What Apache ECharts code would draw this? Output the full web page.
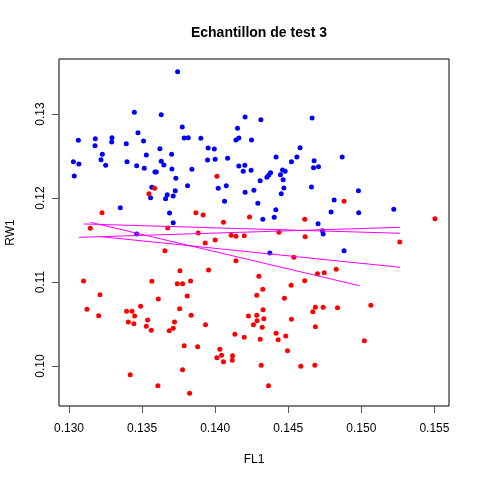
<!DOCTYPE html>
<html>
<head>
<meta charset="utf-8">
<script src="https://cdn.jsdelivr.net/npm/echarts@6/dist/echarts.min.js"></script>
<style>
html, body { margin: 0; padding: 0; background: #fff; }
#nuage { width: 480px; height: 480px; }
</style>
</head>
<body>
<div id="nuage"></div>
<script>
// groupe bleu
var bleuFL1 = [0.13743, 0.13447, 0.13631, 0.13472, 0.13775, 0.13064, 0.13180, 0.13294, 0.13292, 0.13178,
    0.13392, 0.13510, 0.13788, 0.13816, 0.13902, 0.14153, 0.14205, 0.14142, 0.14162, 0.14249,
    0.13228, 0.13219, 0.13030, 0.13068, 0.13036, 0.13251, 0.13397, 0.13463, 0.13529, 0.13515,
    0.13622, 0.13631, 0.13649, 0.13702, 0.13704, 0.13588, 0.13597, 0.13731, 0.13841, 0.13952,
    0.13994, 0.13948, 0.14000, 0.14085, 0.14162, 0.14203, 0.14192, 0.14246, 0.13567, 0.13811,
    0.14021, 0.14076, 0.13727, 0.13672, 0.13713, 0.13558, 0.13661, 0.14205, 0.14265, 0.14064,
    0.14292, 0.13351, 0.13688, 0.13713, 0.13463, 0.14313, 0.14663, 0.14581, 0.14417, 0.14559,
    0.14522, 0.14677, 0.14869, 0.14461, 0.14479, 0.14447, 0.14379, 0.14367, 0.14354, 0.14673,
    0.14707, 0.14308, 0.14465, 0.14470, 0.14452, 0.14659, 0.14980, 0.14415, 0.14326, 0.14404,
    0.14814, 0.14793, 0.14982, 0.15222, 0.14704, 0.14734, 0.14739, 0.14374, 0.14882];
var bleuRW1 = [0.13504, 0.13020, 0.12992, 0.12778, 0.12845, 0.12687, 0.12706, 0.12718, 0.12667, 0.12623,
    0.12647, 0.12679, 0.12714, 0.12718, 0.12710, 0.12829, 0.12964, 0.12690, 0.12714, 0.12690,
    0.12520, 0.12456, 0.12433, 0.12405, 0.12262, 0.12389, 0.12433, 0.12385, 0.12512, 0.12353,
    0.12587, 0.12437, 0.12393, 0.12520, 0.12345, 0.12310, 0.12310, 0.12234, 0.12341, 0.12595,
    0.12583, 0.12452, 0.12460, 0.12472, 0.12381, 0.12389, 0.12318, 0.12329, 0.12127, 0.12147,
    0.12115, 0.12147, 0.12087, 0.12040, 0.12024, 0.12004, 0.11992, 0.12067, 0.12091, 0.11960,
    0.11937, 0.11885, 0.11821, 0.11706, 0.11571, 0.12933, 0.12952, 0.12599, 0.12488, 0.12488,
    0.12433, 0.12444, 0.12488, 0.12333, 0.12318, 0.12278, 0.12302, 0.12274, 0.12246, 0.12361,
    0.12373, 0.12206, 0.12218, 0.12119, 0.12052, 0.12131, 0.12087, 0.11861, 0.11746, 0.11770,
    0.11976, 0.11833, 0.11825, 0.11865, 0.11694, 0.11611, 0.11571, 0.11345, 0.11373];

// groupe rouge
var rougeFL1 = [0.14012, 0.13586, 0.13547, 0.13226, 0.13868, 0.13918, 0.14235, 0.14057, 0.13146, 0.13675,
    0.13884, 0.14110, 0.14142, 0.14199, 0.14882, 0.14613, 0.15504, 0.14436, 0.14616, 0.14000,
    0.13932, 0.13656, 0.14142, 0.13759, 0.13955, 0.13100, 0.13567, 0.13741, 0.13777, 0.13832,
    0.13212, 0.13809, 0.13611, 0.13123, 0.13203, 0.13394, 0.13431, 0.13490, 0.13449, 0.13757,
    0.13836, 0.13406, 0.13444, 0.13538, 0.13529, 0.13563, 0.13722, 0.13713, 0.13686, 0.13934,
    0.14228, 0.14262, 0.14135, 0.14199, 0.13788, 0.13880, 0.14032, 0.14012, 0.14044, 0.14057,
    0.14119, 0.14117, 0.13777, 0.13419, 0.13608, 0.13825, 0.15263, 0.14538, 0.14299, 0.14700,
    0.14746, 0.14828, 0.14613, 0.14520, 0.14326, 0.14285, 0.14474, 0.15065, 0.14686, 0.14739,
    0.14837, 0.14668, 0.14328, 0.14285, 0.14287, 0.14333, 0.14522, 0.14322, 0.14686, 0.14417,
    0.14483, 0.14431, 0.14308, 0.15021, 0.14495, 0.14315, 0.14586, 0.14682, 0.14365];
var rougeRW1 = [0.12258, 0.12115, 0.12052, 0.11825, 0.11825, 0.11798, 0.11774, 0.11710, 0.11639, 0.11643,
    0.11583, 0.11556, 0.11544, 0.11552, 0.11960, 0.11746, 0.11754, 0.11591, 0.11540, 0.11500,
    0.11464, 0.11373, 0.11254, 0.11135, 0.11143, 0.11012, 0.11008, 0.10980, 0.10980, 0.11012,
    0.10849, 0.10833, 0.10798, 0.10675, 0.10599, 0.10651, 0.10651, 0.10710, 0.10595, 0.10683,
    0.10603, 0.10524, 0.10504, 0.10548, 0.10472, 0.10425, 0.10524, 0.10448, 0.10421, 0.10492,
    0.10595, 0.10492, 0.10377, 0.10341, 0.10242, 0.10230, 0.10198, 0.10099, 0.10127, 0.10052,
    0.10123, 0.10067, 0.09956, 0.09897, 0.09766, 0.09675, 0.11476, 0.11294, 0.11068, 0.11099,
    0.11111, 0.11151, 0.11016, 0.10960, 0.10913, 0.10841, 0.10806, 0.10722, 0.10698, 0.10698,
    0.10694, 0.10647, 0.10671, 0.10603, 0.10540, 0.10563, 0.10556, 0.10460, 0.10468, 0.10389,
    0.10357, 0.10313, 0.10317, 0.10302, 0.10183, 0.10008, 0.09996, 0.10008, 0.09766];

// les 4 droites magenta (debut, fin)
var droite1 = [[0.13101, 0.11691], [0.15265, 0.11580]];
var droite2 = [[0.13068, 0.11532], [0.15265, 0.11651]];
var droite3 = [[0.13146, 0.11711], [0.14987, 0.10956]];
var droite4 = [[0.13219, 0.11540], [0.15265, 0.11175]];

var ticksFL1 = [0.130, 0.135, 0.140, 0.145, 0.150, 0.155];
var ticksRW1 = [0.10, 0.11, 0.12, 0.13];

var paires = function(xs, ys) {
    return xs.map(function(x, i) { return [x, ys[i]]; });
};

var police = 'Liberation Sans, Arial, Helvetica, sans-serif';

var droiteSerie = function(d) {
    return {
        type: 'line',
        data: d,
        symbol: 'none',
        silent: true,
        lineStyle: { color: '#ff00ff', width: 1 },
        z: 5
    };
};

var nuage = echarts.init(document.getElementById('nuage'));
nuage.setOption({
    animation: false,
    backgroundColor: '#ffffff',
    title: {
        text: 'Echantillon de test 3',
        left: 254,
        top: 21,
        textAlign: 'center',
        textStyle: { fontFamily: police, fontSize: 14, fontWeight: 'bold', color: '#000' }
    },
    grid: {
        left: 59, right: 31, top: 59, bottom: 74,
        outerBoundsMode: 'none',
        show: true, borderColor: '#000', borderWidth: 1, backgroundColor: 'transparent'
    },
    xAxis: {
        type: 'value',
        min: 0.129316,
        max: 0.155998,
        name: 'FL1',
        nameLocation: 'middle',
        nameGap: 48,
        nameTextStyle: { fontFamily: police, fontSize: 12, color: '#000' },
        axisLine: { show: false },
        splitLine: { show: false },
        axisTick: { show: true, inside: false, length: 7, customValues: ticksFL1, lineStyle: { color: '#555' } },
        axisLabel: {
            customValues: ticksFL1, margin: 17,
            fontFamily: police, fontSize: 12, color: '#000',
            formatter: function(v) { return v.toFixed(3); }
        }
    },
    yAxis: {
        type: 'value',
        min: 0.095238,
        max: 0.136548,
        name: 'RW1',
        nameLocation: 'middle',
        nameRotate: 90,
        nameGap: 42,
        nameTextStyle: { fontFamily: police, fontSize: 12, color: '#000' },
        axisLine: { show: false },
        splitLine: { show: false },
        axisTick: { show: true, inside: false, length: 7, customValues: ticksRW1, lineStyle: { color: '#555' } },
        axisLabel: {
            customValues: ticksRW1, margin: 12, rotate: 90,
            fontFamily: police, fontSize: 12, color: '#000',
            formatter: function(v) { return v.toFixed(2); }
        }
    },
    series: [
        {
            type: 'scatter',
            data: paires(bleuFL1, bleuRW1),
            symbolSize: 5,
            itemStyle: { color: '#0000ff', opacity: 1 }
        },
        {
            type: 'scatter',
            data: paires(rougeFL1, rougeRW1),
            symbolSize: 5,
            itemStyle: { color: '#ff0000', opacity: 1 }
        },
        droiteSerie(droite1),
        droiteSerie(droite2),
        droiteSerie(droite3),
        droiteSerie(droite4)
    ]
});
</script>
</body>
</html>
